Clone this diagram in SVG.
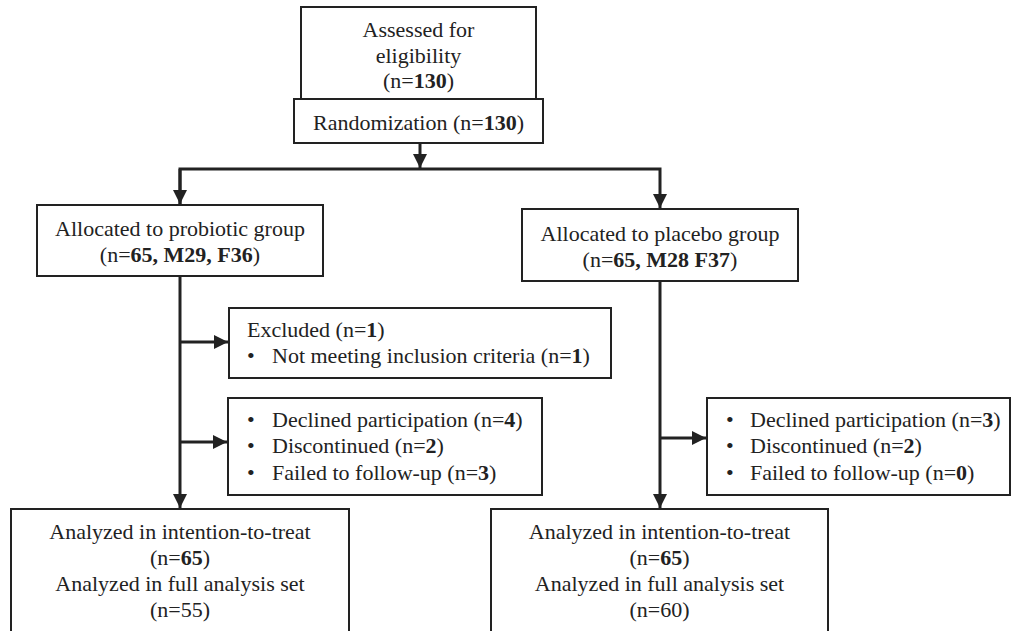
<svg xmlns="http://www.w3.org/2000/svg" width="1012" height="631" viewBox="0 0 1012 631">
<style>
.box{fill:#fff;stroke:#222;stroke-width:2}
.t{font-family:"Liberation Serif","Times New Roman",serif;font-size:22px;fill:#222}
.c{text-anchor:middle}
.b{font-weight:bold}
.ln{stroke:#222;stroke-width:3;fill:none}
</style>
<defs>
<marker id="ah" markerUnits="userSpaceOnUse" markerWidth="16" markerHeight="16" viewBox="0 0 16 16" refX="15" refY="8" orient="auto">
<path d="M1,1 L15,8 L1,15 Z" fill="#222"/>
</marker>
</defs>
<rect width="1012" height="631" fill="#fff"/>
<g id="connectors">
<line class="ln" x1="420" y1="143" x2="420" y2="168" marker-end="url(#ah)"/>
<polyline class="ln" points="180,204 180,169 660,169 660,208" marker-end="url(#ah)"/>
<path class="ln" d="M180,169 L180,204" marker-end="url(#ah)"/>
<line class="ln" x1="180" y1="276" x2="180" y2="508" marker-end="url(#ah)"/>
<line class="ln" x1="180" y1="342" x2="228" y2="342" marker-end="url(#ah)"/>
<line class="ln" x1="180" y1="442" x2="227" y2="442" marker-end="url(#ah)"/>
<line class="ln" x1="660" y1="281" x2="660" y2="508" marker-end="url(#ah)"/>
<line class="ln" x1="660" y1="438" x2="706" y2="438" marker-end="url(#ah)"/>
</g>
<g id="assessed">
<rect class="box" x="301" y="7" width="235" height="92"/>
<text class="t c" x="418.5" y="37">Assessed for</text>
<text class="t c" x="418.5" y="63">eligibility</text>
<text class="t c" x="418.5" y="88">(n=<tspan class="b">130</tspan>)</text>
</g>
<g id="randomization">
<rect class="box" x="294" y="99" width="249" height="44"/>
<text class="t c" x="418.5" y="130">Randomization (n=<tspan class="b">130</tspan>)</text>
</g>
<g id="probiotic">
<rect class="box" x="37" y="205" width="286" height="71"/>
<text class="t c" x="180" y="236">Allocated to probiotic group</text>
<text class="t c" x="180" y="262">(n=<tspan class="b">65, M29, F36</tspan>)</text>
</g>
<g id="placebo">
<rect class="box" x="522" y="209" width="276" height="72"/>
<text class="t c" x="660" y="241">Allocated to placebo group</text>
<text class="t c" x="660" y="267">(n=<tspan class="b">65, M28 F37</tspan>)</text>
</g>
<g id="excluded">
<rect class="box" x="229" y="308" width="382" height="70"/>
<text class="t" x="247" y="337">Excluded (n=<tspan class="b">1</tspan>)</text>
<text class="t" x="247" y="363">•</text>
<text class="t" x="272" y="363">Not meeting inclusion criteria (n=<tspan class="b">1</tspan>)</text>
</g>
<g id="dropout-probiotic">
<rect class="box" x="228" y="398" width="314" height="97"/>
<text class="t" x="247" y="427">•</text>
<text class="t" x="272" y="427">Declined participation (n=<tspan class="b">4</tspan>)</text>
<text class="t" x="247" y="453">•</text>
<text class="t" x="272" y="453">Discontinued (n=<tspan class="b">2</tspan>)</text>
<text class="t" x="247" y="480">•</text>
<text class="t" x="272" y="480">Failed to follow-up (n=<tspan class="b">3</tspan>)</text>
</g>
<g id="dropout-placebo">
<rect class="box" x="707" y="398" width="303" height="97"/>
<text class="t" x="726" y="427">•</text>
<text class="t" x="750" y="427">Declined participation (n=<tspan class="b">3</tspan>)</text>
<text class="t" x="726" y="453">•</text>
<text class="t" x="750" y="453">Discontinued (n=<tspan class="b">2</tspan>)</text>
<text class="t" x="726" y="480">•</text>
<text class="t" x="750" y="480">Failed to follow-up (n=<tspan class="b">0</tspan>)</text>
</g>
<g id="analyzed-probiotic">
<rect class="box" x="11" y="509" width="338" height="130"/>
<text class="t c" x="180" y="539">Analyzed in intention-to-treat</text>
<text class="t c" x="180" y="565">(n=<tspan class="b">65</tspan>)</text>
<text class="t c" x="180" y="591">Analyzed in full analysis set</text>
<text class="t c" x="180" y="617">(n=55)</text>
</g>
<g id="analyzed-placebo">
<rect class="box" x="491" y="509" width="337" height="130"/>
<text class="t c" x="659.5" y="539">Analyzed in intention-to-treat</text>
<text class="t c" x="659.5" y="565">(n=<tspan class="b">65</tspan>)</text>
<text class="t c" x="659.5" y="591">Analyzed in full analysis set</text>
<text class="t c" x="659.5" y="617">(n=60)</text>
</g>
</svg>
